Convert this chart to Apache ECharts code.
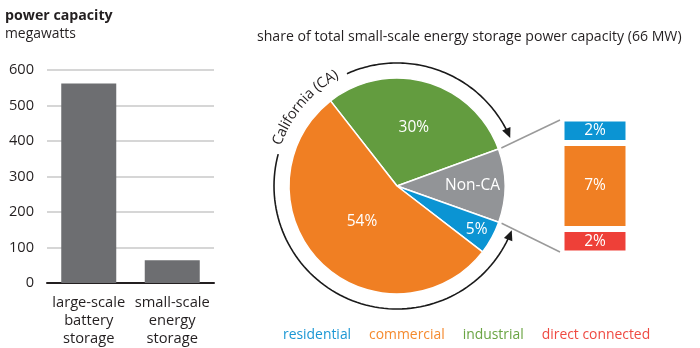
<!DOCTYPE html>
<html><head><meta charset="utf-8">
<script src="https://cdn.jsdelivr.net/npm/echarts@6/dist/echarts.min.js"></script>
<style>html,body{margin:0;padding:0;background:#fff}#c{width:700px;height:348px}</style>
</head><body><div id="c"></div>
<script>
// ---- data ----
const barCategories = ['large-scale\nbattery\nstorage', 'small-scale\nenergy\nstorage'];
const barValues = [562, 64];
const pieNames = ['industrial', 'Non-CA', 'residential', 'commercial'];
const pieValues = [30, 11, 5, 54];
const pieLabelText = ['30%', 'Non-CA', '5%', '54%'];
const nonCANames = ['direct connected', 'commercial', 'residential'];
const nonCAValues = [2, 7, 2];
const nonCALabels = ['2%', '7%', '2%'];
const legendNames = ['residential', 'commercial', 'industrial', 'direct connected'];
const arcLabel = 'California (CA)';
const leftTitle = 'power capacity';
const leftSubtitle = 'megawatts';
const rightTitle = 'share of total small-scale energy storage power capacity (66 MW)';

// ---- styles / layout ----
const FONT = '"Open Sans", "Noto Sans", sans-serif';
const TXT = '#231f20';
const fillColors = {'residential':'#0b94d3','commercial':'#f07f23','industrial':'#639c3f','Non-CA':'#929497','direct connected':'#ee4038'};
const legendColors = {'residential':'#1b97d4','commercial':'#f58a2e','industrial':'#6aa443','direct connected':'#ef4a42'};
const PCX = 397, PCY = 186, PR = 108, START = 128;
const labelRadiusFrac = [0.565, 0.70, 0.84, 0.46];
const BOX = {left: 561.5, top: 118.5, width: 67, height: 135};

const total = pieValues.reduce((a,b)=>a+b,0);
function sliceAngles(i){ let cum=0; for(let k=0;k<i;k++) cum+=pieValues[k];
  return [START - cum/total*360, START - (cum+pieValues[i])/total*360]; }
const rad = d => d*Math.PI/180;
const pt = (r, deg) => [PCX + r*Math.cos(rad(deg)), PCY - r*Math.sin(rad(deg))];

const chart = echarts.init(document.getElementById('c'), null, {renderer:'canvas'});

// measure text / fit sizes
const mctx = document.createElement('canvas').getContext('2d');
function tw(t, size, weight){ mctx.font = (weight||'normal') + ' ' + size + 'px ' + FONT; return mctx.measureText(t).width; }
function fit(t, width, weight){ return Math.round(20 * width / tw(t, 20, weight) * 10) / 10; }
const rightTitleSize = fit(rightTitle, 426);
const leftTitleSize = fit(leftTitle, 108, 'bold');
const leftSubSize = fit(leftSubtitle, 71);
const xLabelSize = fit('large-scale', 73);
const yLabelSize = fit('600', 25);
const legendGap = 18;
const legendSize = Math.round(20 * (367 - legendGap*3) / legendNames.reduce((s,n)=>s+tw(n,20),0) * 10)/10;
const sliceFont = 15.5;

const elements = [];
// arc with text
const AR = 123;
const nonCAIdx = pieNames.indexOf('Non-CA');
const [gA, gB] = sliceAngles(nonCAIdx);
const tipUp = gA + 3, tipDown = gB - 1.5;
const textMid = 139.5, TR = 127, TFS = 14.5;
const charW = [...arcLabel].map(c => tw(c, TFS));
const totalW = charW.reduce((a,b)=>a+b,0);
const spanDeg = totalW / TR * 180/Math.PI;
const tStart = textMid + spanDeg/2, tEnd = textMid - spanDeg/2;
const pad = 4;
function arcPts(a0, a1, r){ const pts=[]; const n=80; for(let i=0;i<=n;i++){ const a=a0+(a1-a0)*i/n; pts.push(pt(r,a)); } return pts; }
elements.push({type:'polyline', shape:{points: arcPts(tEnd - pad, tipUp + 2, AR)}, style:{stroke:'#1a1a1a', lineWidth:1.6, fill:null}, silent:true});
elements.push({type:'polyline', shape:{points: arcPts(tStart + pad, 360 + tipDown - 2, AR)}, style:{stroke:'#1a1a1a', lineWidth:1.6, fill:null}, silent:true});
function arrowHead(tipDeg, dir){
  const tip = pt(AR, tipDeg); const a = rad(tipDeg);
  let tx, ty; if (dir < 0){ tx = Math.sin(a); ty = Math.cos(a);} else { tx = -Math.sin(a); ty = -Math.cos(a);}
  const L = 10, W = 4.5; const bx = tip[0]-tx*L, by = tip[1]-ty*L;
  return {type:'polygon', shape:{points:[tip,[bx - ty*W, by + tx*W],[bx + ty*W, by - tx*W]]}, style:{fill:'#1a1a1a'}, silent:true};
}
elements.push(arrowHead(tipUp, -1));
elements.push(arrowHead(tipDown, 1));
let acc = 0;
[...arcLabel].forEach((c, i) => {
  const mid = acc + charW[i]/2; acc += charW[i];
  const ang = tStart - mid / TR * 180/Math.PI;
  const p = pt(TR, ang);
  elements.push({type:'text', x:p[0], y:p[1], rotation: rad(ang - 90), silent:true,
    style:{text:c, font: TFS + 'px ' + FONT, fill:TXT, textAlign:'center', align:'center', textVerticalAlign:'middle', verticalAlign:'middle'}});
});
// connector lines
const pA = pt(PR + 3, gA), pB = pt(PR + 3, gB);
elements.push({type:'polyline', shape:{points:[pA, [BOX.left - 1.5, BOX.top + 1.5]]}, style:{stroke:'#9a9a9a', lineWidth:1.5, fill:null}, silent:true});
elements.push({type:'polyline', shape:{points:[pB, [BOX.left - 1.5, BOX.top + BOX.height - 1.5]]}, style:{stroke:'#9a9a9a', lineWidth:1.5, fill:null}, silent:true});
// legend text
let lx = 283;
legendNames.forEach(n => {
  elements.push({type:'text', x:lx, y:335.5, silent:true, style:{text:n, font:legendSize + 'px ' + FONT, fill:legendColors[n], textAlign:'left', align:'left', textVerticalAlign:'middle', verticalAlign:'middle'}});
  lx += tw(n, legendSize) + legendGap;
});

const option = {
  animation:false,
  textStyle:{fontFamily:FONT},
  title:[
    {text:leftTitle, left:5, top:9, padding:0,
     textStyle:{fontSize:leftTitleSize, fontWeight:'bold', color:TXT, fontFamily:FONT}},
    {text:leftSubtitle, left:5, top:27, padding:0,
     textStyle:{fontSize:leftSubSize, fontWeight:'normal', color:TXT, fontFamily:FONT}},
    {text:rightTitle, left:257, top:30, padding:0, textStyle:{fontSize:rightTitleSize, fontWeight:'normal', color:TXT, fontFamily:FONT}}
  ],
  grid:[
    {left:47, right:486, top:70, bottom:65},
    {left:BOX.left, top:BOX.top, width:BOX.width, height:BOX.height}
  ],
  xAxis:[
    {type:'category', gridIndex:0, data:barCategories, axisTick:{show:false},
     axisLine:{lineStyle:{color:TXT, width:2}},
     axisLabel:{fontSize:xLabelSize, lineHeight:18, margin:11, color:TXT, interval:0}},
    {type:'category', gridIndex:1, data:['Non-CA'], show:false}
  ],
  yAxis:[
    {type:'value', gridIndex:0, min:0, max:600, interval:100, axisLine:{show:false}, axisTick:{show:false},
     splitLine:{lineStyle:{color:'#c9c9c9', width:1.5}},
     axisLabel:{fontSize:yLabelSize, color:TXT, margin:13}},
    {type:'value', gridIndex:1, min:0, max:11, show:false}
  ],
  series:[
    {type:'bar', xAxisIndex:0, yAxisIndex:0, data:barValues, barWidth:55, itemStyle:{color:'#6d6e71'}, silent:true},
    {type:'pie', center:[PCX, PCY], radius:PR, startAngle:START, clockwise:true, silent:true,
     data: pieNames.map((n,i)=>({name:n, value:pieValues[i], itemStyle:{color:fillColors[n]}})),
     itemStyle:{borderColor:'#fff', borderWidth:1.5},
     label:{show:true, position:'inside', color:'#fff', fontSize:sliceFont, fontFamily:FONT, formatter:p=>pieLabelText[p.dataIndex]},
     labelLine:{show:false},
     labelLayout:function(p){ const i=p.dataIndex; const [a0,a1]=sliceAngles(i); const m=(a0+a1)/2; const q=pt(PR*labelRadiusFrac[i], m); return {x:q[0], y:q[1]}; }
    },
    ...nonCANames.map((n,i)=>({type:'bar', name:n, xAxisIndex:1, yAxisIndex:1, stack:'nc', barWidth:'100%', silent:true,
      data:[nonCAValues[i]], itemStyle:{color:fillColors[n], borderColor:'#fff', borderWidth:3},
      label:{show:true, position:'inside', color:'#fff', fontSize:sliceFont, fontFamily:FONT, formatter:()=>nonCALabels[i]}}))
  ],
  graphic:{elements}
};
chart.setOption(option);
</script></body></html>
